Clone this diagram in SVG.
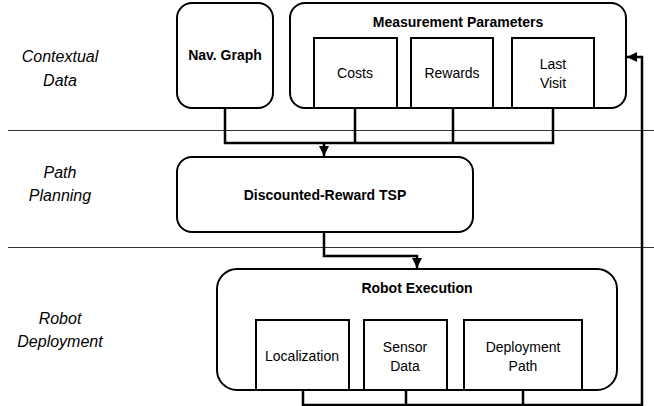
<svg xmlns="http://www.w3.org/2000/svg" width="654" height="406" viewBox="0 0 654 406">
<defs>
<style>
.box{fill:#fff;stroke:#000;stroke-width:2}
.sep{stroke:#333;stroke-width:1}
.con{fill:none;stroke:#000;stroke-width:2.5}
.lane{font-family:"Liberation Sans",Arial,sans-serif;font-style:italic;font-size:16px;fill:#000;text-anchor:middle}
.b{font-family:"Liberation Sans",Arial,sans-serif;font-weight:bold;font-size:14px;fill:#000;text-anchor:middle}
.t{font-family:"Liberation Sans",Arial,sans-serif;font-size:14px;fill:#000;text-anchor:middle}
</style>
<marker id="ah" viewBox="0 0 10 10" refX="10" refY="5" markerWidth="4" markerHeight="4" orient="auto" markerUnits="strokeWidth">
<path d="M0,0 L10,5 L0,10 z" fill="#000"/>
</marker>
</defs>
<g id="lanes">
<line class="sep" x1="8" y1="130.5" x2="654" y2="130.5"/>
<line class="sep" x1="8" y1="247.5" x2="654" y2="247.5"/>
<text class="lane" x="60" y="62">Contextual</text>
<text class="lane" x="60" y="86">Data</text>
<text class="lane" x="60" y="178">Path</text>
<text class="lane" x="60" y="201">Planning</text>
<text class="lane" x="60" y="324">Robot</text>
<text class="lane" x="60" y="347">Deployment</text>
</g>
<g id="connectors">
<path class="con" d="M225,108 V143 H553 V108 M355,108 V143 M453,108 V143"/>
<path class="con" d="M324,143 V156" marker-end="url(#ah)"/>
<path class="con" d="M324,232 V256 H417 V268" marker-end="url(#ah)"/>
<path class="con" d="M303,390 V405 H642 V57 H627" marker-end="url(#ah)"/>
<path class="con" d="M406,390 V405 M523,390 V405"/>
</g>
<g id="nav-graph">
<rect class="box" x="177" y="3" width="96" height="105" rx="15"/>
<text class="b" x="225" y="60">Nav. Graph</text>
</g>
<g id="measurement-parameters">
<rect class="box" x="290" y="3" width="336" height="105" rx="15"/>
<text class="b" x="458" y="27">Measurement Parameters</text>
</g>
<g id="costs">
<rect class="box" x="314" y="38" width="83" height="70"/>
<text class="t" x="355" y="78">Costs</text>
</g>
<g id="rewards">
<rect class="box" x="411" y="38" width="82" height="70"/>
<text class="t" x="452" y="78">Rewards</text>
</g>
<g id="last-visit">
<rect class="box" x="512" y="38" width="82" height="70"/>
<text class="t" x="553" y="69">Last</text>
<text class="t" x="553" y="88">Visit</text>
</g>
<g id="tsp">
<rect class="box" x="177" y="157" width="296" height="75" rx="15"/>
<text class="b" x="325" y="200">Discounted-Reward TSP</text>
</g>
<g id="robot-execution">
<rect class="box" x="217" y="269" width="400" height="121" rx="20"/>
<text class="b" x="417" y="293">Robot Execution</text>
</g>
<g id="localization">
<rect class="box" x="256" y="320" width="93" height="70"/>
<text class="t" x="302" y="361">Localization</text>
</g>
<g id="sensor-data">
<rect class="box" x="364" y="320" width="83" height="70"/>
<text class="t" x="405" y="352">Sensor</text>
<text class="t" x="405" y="371">Data</text>
</g>
<g id="deployment-path">
<rect class="box" x="464" y="320" width="118" height="70"/>
<text class="t" x="523" y="352">Deployment</text>
<text class="t" x="523" y="371">Path</text>
</g>
</svg>
